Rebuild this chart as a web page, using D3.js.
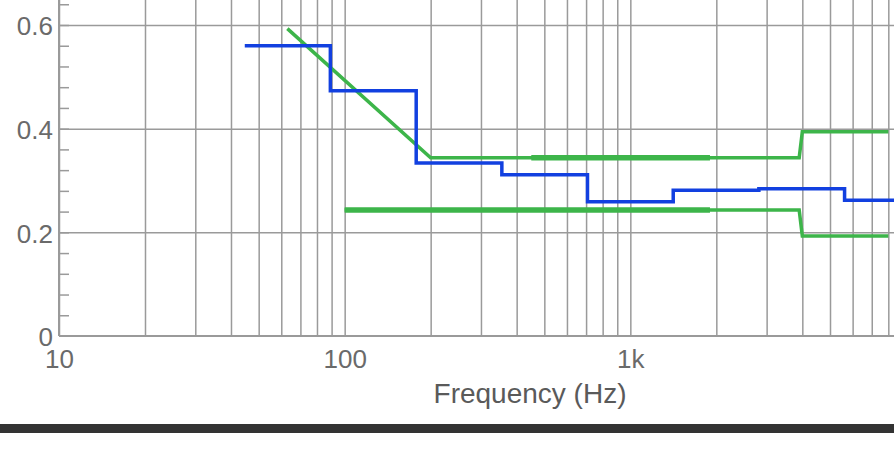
<!DOCTYPE html>
<html>
    <head>
        <meta charset="utf-8">
        <title>Reverberation time</title>
        <style>
            body { margin: 0; background: #fff; }
            .grid line { stroke: #9a9a9a; stroke-width: 1.5px; }
            .grid path { display: none; }
            .axis text { font-family: "Liberation Sans", Arial, sans-serif; fill: #6a6a6a; }
            path.line { fill: none; }
        </style>
    </head>

    <body>
        <script src="https://cdn.jsdelivr.net/npm/d3@7"></script>
        <script>

            // octave band edges (Hz) and measured values per band
            var bandEdges = [44.7, 89.1, 178, 355, 708, 1413, 2818, 5623, 11220];
            var measured = [0.56, 0.473, 0.334, 0.311, 0.259, 0.281, 0.284, 0.262];

            // tolerance limits
            var upperFreq = [63, 200, 3900, 4000, 8000];
            var upperVal = [0.593, 0.344, 0.344, 0.394, 0.394];
            var lowerFreq = [100, 3900, 4000, 8000];
            var lowerVal = [0.243, 0.243, 0.193, 0.193];

            // bold parts of the limits
            var upperBoldFreq = [450, 1900];
            var upperBoldVal = [0.344, 0.344];
            var lowerBoldFreq = [100, 1900];
            var lowerBoldVal = [0.243, 0.243];

            var xTicks = [10, 100, 1000];
            var xTickLabels = ["10", "100", "1k"];
            var yTicks = [0, 0.2, 0.4, 0.6];

            var width = 894;
            var height = 451;
            var left = 59;
            var bottom = 336;

            var x = d3.scaleLog().domain([10, 10000]).range([left, 916]);
            var y = d3.scaleLinear().domain([0, 0.6]).range([bottom, 25]);

            var svg = d3.select("body").append("svg")
                    .attr("width", width)
                    .attr("height", height);

            // vertical grid: every 1..9 x decade
            var minor = [];
            [10, 100, 1000].forEach(function (d) {
                for (var i = 1; i < 10; i++) minor.push(d * i);
            });
            minor.push(10000);
            minor = minor.filter(function (d) { return x(d) <= width; });

            svg.append("g")
                    .attr("class", "grid")
                    .attr("transform", "translate(0," + bottom + ")")
                    .call(d3.axisBottom(x).tickValues(minor).tickSize(-bottom).tickFormat(""));

            svg.append("g")
                    .attr("class", "grid")
                    .attr("transform", "translate(" + left + ",0)")
                    .call(d3.axisLeft(y).tickValues([0.2, 0.4, 0.6]).tickSize(-(width - left)).tickFormat(""));

            // y minor ticks, every 0.04
            var yMinor = d3.range(0.04, 0.66, 0.04);
            svg.append("g")
                    .attr("class", "grid")
                    .attr("transform", "translate(" + left + ",0)")
                    .call(d3.axisRight(y).tickValues(yMinor).tickSize(10).tickFormat(""));

            // axis lines
            svg.append("line")
                    .attr("x1", left).attr("x2", width)
                    .attr("y1", bottom).attr("y2", bottom)
                    .attr("stroke", "#9a9a9a").attr("stroke-width", 2);
            svg.append("line")
                    .attr("x1", left).attr("x2", left)
                    .attr("y1", 0).attr("y2", bottom)
                    .attr("stroke", "#9a9a9a").attr("stroke-width", 2);

            // tick labels
            svg.append("g")
                    .attr("class", "axis")
                    .attr("transform", "translate(0," + bottom + ")")
                    .call(d3.axisBottom(x).tickValues(xTicks).tickSize(0).tickPadding(14)
                        .tickFormat(function (d, i) { return xTickLabels[i]; }))
                    .call(function (g) { g.select(".domain").remove(); })
                    .selectAll("text").style("font-size", "26px");

            svg.append("g")
                    .attr("class", "axis")
                    .attr("transform", "translate(" + left + ",0)")
                    .call(d3.axisLeft(y).tickValues(yTicks).tickSize(0).tickPadding(6).tickFormat(d3.format("")))
                    .call(function (g) { g.select(".domain").remove(); })
                    .selectAll("text").style("font-size", "26px").attr("dy", "0.38em");

            svg.append("text")
                    .attr("x", 530)
                    .attr("y", 403)
                    .attr("text-anchor", "middle")
                    .style("font-family", "Liberation Sans, Arial, sans-serif")
                    .style("font-size", "28px")
                    .style("fill", "#5a5a5a")
                    .text("Frequency (Hz)");

            var line = d3.line()
                    .x(function (d) { return x(d[0]); })
                    .y(function (d) { return y(d[1]); });

            function pairs(f, v) {
                return f.map(function (d, i) { return [d, v[i]]; });
            }

            var green = "#3db54a";

            svg.append("path").attr("class", "line")
                    .attr("d", line(pairs(upperFreq, upperVal)))
                    .attr("stroke", green).attr("stroke-width", 3.5);
            svg.append("path").attr("class", "line")
                    .attr("d", line(pairs(lowerFreq, lowerVal)))
                    .attr("stroke", green).attr("stroke-width", 3.5);
            svg.append("path").attr("class", "line")
                    .attr("d", line(pairs(upperBoldFreq, upperBoldVal)))
                    .attr("stroke", green).attr("stroke-width", 5.5);
            svg.append("path").attr("class", "line")
                    .attr("d", line(pairs(lowerBoldFreq, lowerBoldVal)))
                    .attr("stroke", green).attr("stroke-width", 5.5);

            // measured step line
            var steps = pairs(bandEdges.slice(0, -1), measured);
            steps.push([bandEdges[bandEdges.length - 1], measured[measured.length - 1]]);
            svg.append("path").attr("class", "line")
                    .attr("d", line.curve(d3.curveStepAfter)(steps))
                    .attr("stroke", "#1240e0").attr("stroke-width", 3.5);

            // dark strip at the bottom
            svg.append("rect")
                    .attr("x", 0).attr("y", 424)
                    .attr("width", width).attr("height", 9)
                    .attr("fill", "#333");

        </script>
    </body>
</html>
